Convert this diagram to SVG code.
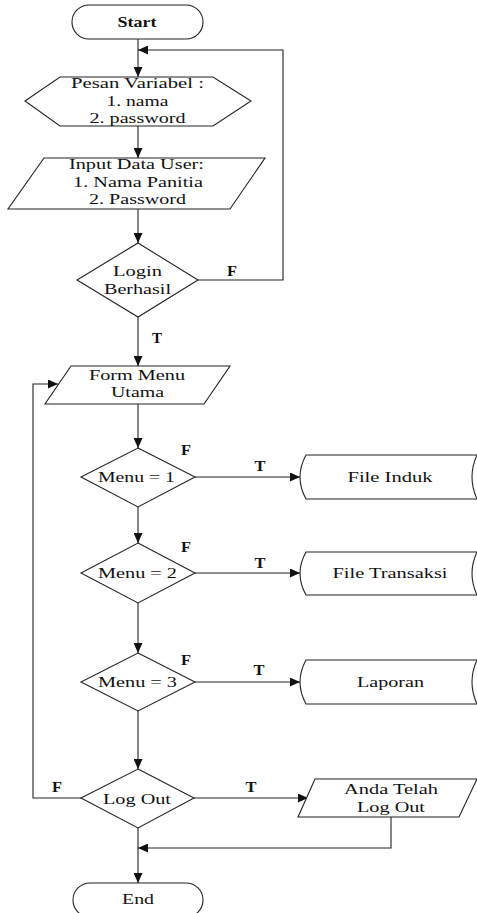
<svg xmlns="http://www.w3.org/2000/svg" width="477" height="913" viewBox="0 0 477 913">
<style>
.s{fill:#fff;stroke:#222;stroke-width:1.1}
.c{fill:none;stroke:#222;stroke-width:1.1}
text{font-family:"Liberation Serif","Times New Roman",serif;font-size:14px;fill:#111;text-anchor:middle}
.b{font-weight:bold}
</style>
<defs>
<marker id="ah" markerUnits="userSpaceOnUse" markerWidth="10" markerHeight="9" refX="10" refY="4.5" orient="auto">
<path d="M0,0 L10,4.5 L0,9 z" fill="#111"/>
</marker>
</defs>
<rect width="477" height="913" fill="#fff"/>
<g id="connectors" class="c" marker-end="url(#ah)">
<path d="M138,39 V77"/>
<path d="M138,126 V158"/>
<path d="M138,209 V243"/>
<path d="M138,317 V366"/>
<path d="M138,404 V448"/>
<path d="M138,507 V543"/>
<path d="M138,603 V653"/>
<path d="M138,711 V769"/>
<path d="M138,828 V883"/>
<path d="M198,280 H283 V50 H138"/>
<path d="M195,477 H300"/>
<path d="M195,573 H300"/>
<path d="M195,682 H300"/>
<path d="M194,798 H308"/>
<path d="M391,817 V848 H138"/>
<path d="M81,798 H33 V384 H58"/>
</g>
<g id="labels">
<text class="b" x="157" y="343" textLength="10" lengthAdjust="spacingAndGlyphs">T</text>
<text class="b" x="232" y="276" textLength="10" lengthAdjust="spacingAndGlyphs">F</text>
<text class="b" x="186" y="455" textLength="10" lengthAdjust="spacingAndGlyphs">F</text>
<text class="b" x="260" y="471" textLength="11" lengthAdjust="spacingAndGlyphs">T</text>
<text class="b" x="186" y="552" textLength="10" lengthAdjust="spacingAndGlyphs">F</text>
<text class="b" x="260" y="568" textLength="11" lengthAdjust="spacingAndGlyphs">T</text>
<text class="b" x="186" y="665" textLength="10" lengthAdjust="spacingAndGlyphs">F</text>
<text class="b" x="259" y="675" textLength="11" lengthAdjust="spacingAndGlyphs">T</text>
<text class="b" x="57" y="792" textLength="10" lengthAdjust="spacingAndGlyphs">F</text>
<text class="b" x="251" y="792" textLength="11" lengthAdjust="spacingAndGlyphs">T</text>
</g>
<g id="start">
<rect class="s" x="72" y="5" width="131" height="34" rx="17"/>
<text class="b" x="137" y="27" textLength="39" lengthAdjust="spacingAndGlyphs">Start</text>
</g>
<g id="pesan-variabel">
<polygon class="s" points="25,101 60,77 213,77 251,101 213,126 60,126"/>
<text x="137.5" y="88" textLength="133" lengthAdjust="spacingAndGlyphs">Pesan Variabel :</text>
<text x="137.5" y="106" textLength="62" lengthAdjust="spacingAndGlyphs">1. nama</text>
<text x="137.5" y="123" textLength="96" lengthAdjust="spacingAndGlyphs">2. password</text>
</g>
<g id="input-data-user">
<polygon class="s" points="44,158 265,158 230,209 8,209"/>
<text x="136.5" y="169" textLength="135" lengthAdjust="spacingAndGlyphs">Input Data User:</text>
<text x="138" y="187" textLength="130" lengthAdjust="spacingAndGlyphs">1. Nama Panitia</text>
<text x="137.5" y="204" textLength="97" lengthAdjust="spacingAndGlyphs">2. Password</text>
</g>
<g id="login-berhasil">
<polygon class="s" points="138,243 198,280 138,317 77,280"/>
<text x="137.5" y="276" textLength="49" lengthAdjust="spacingAndGlyphs">Login</text>
<text x="137.5" y="294" textLength="67" lengthAdjust="spacingAndGlyphs">Berhasil</text>
</g>
<g id="form-menu-utama">
<polygon class="s" points="71,366 230,366 204,404 45,404"/>
<text x="137" y="380" textLength="96" lengthAdjust="spacingAndGlyphs">Form Menu</text>
<text x="137.5" y="397" textLength="53" lengthAdjust="spacingAndGlyphs">Utama</text>
</g>
<g id="menu-1">
<polygon class="s" points="138,448 195,477 138,507 81,477"/>
<text x="136.5" y="482" textLength="77" lengthAdjust="spacingAndGlyphs">Menu = 1</text>
</g>
<g id="file-induk">
<path class="s" d="M306,455 H490 V499 H306 Q294,477 306,455 Z"/>
<path class="c" d="M477,455 Q467,477 477,499"/>
<text x="390" y="482" textLength="85" lengthAdjust="spacingAndGlyphs">File Induk</text>
</g>
<g id="menu-2">
<polygon class="s" points="138,543 195,573 138,603 81,573"/>
<text x="137.5" y="578" textLength="79" lengthAdjust="spacingAndGlyphs">Menu = 2</text>
</g>
<g id="file-transaksi">
<path class="s" d="M306,552 H490 V595 H306 Q294,573.5 306,552 Z"/>
<path class="c" d="M477,552 Q467,573.5 477,595"/>
<text x="390" y="578" textLength="115" lengthAdjust="spacingAndGlyphs">File Transaksi</text>
</g>
<g id="menu-3">
<polygon class="s" points="138,653 195,682 138,711 81,682"/>
<text x="137.5" y="687" textLength="79" lengthAdjust="spacingAndGlyphs">Menu = 3</text>
</g>
<g id="laporan">
<path class="s" d="M306,660 H490 V704 H306 Q294,682 306,660 Z"/>
<path class="c" d="M477,660 Q467,682 477,704"/>
<text x="390.5" y="687" textLength="67" lengthAdjust="spacingAndGlyphs">Laporan</text>
</g>
<g id="log-out">
<polygon class="s" points="138,769 194,798 138,828 81,798"/>
<text x="137" y="804" textLength="68" lengthAdjust="spacingAndGlyphs">Log Out</text>
</g>
<g id="anda-telah-log-out">
<polygon class="s" points="315,779 477,779 459,817 298,817"/>
<text x="391" y="794" textLength="94" lengthAdjust="spacingAndGlyphs">Anda Telah</text>
<text x="391" y="812" textLength="68" lengthAdjust="spacingAndGlyphs">Log Out</text>
</g>
<g id="end">
<rect class="s" x="73" y="883" width="130" height="34" rx="17"/>
<text x="138" y="904" textLength="32" lengthAdjust="spacingAndGlyphs">End</text>
</g>
</svg>
